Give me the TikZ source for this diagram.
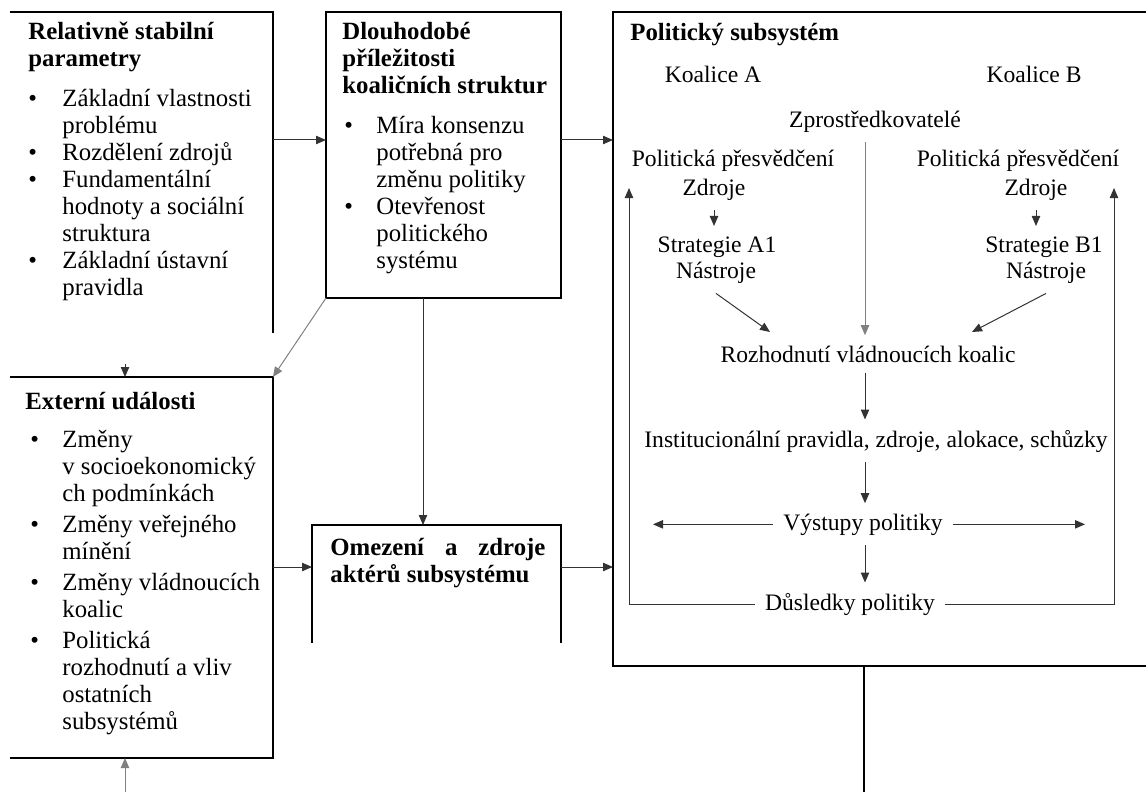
\documentclass[tikz,border=0pt]{standalone}
\usepackage{fontspec}
\setmainfont{Liberation Serif}
\usetikzlibrary{arrows.meta,fit}
\newcommand{\bl}[1]{\makebox[#1][l]{\textbullet}}
\newcommand{\hi}[1]{\hspace*{#1}}

\begin{document}
\begin{tikzpicture}[x=0.5pt, y=-0.5pt,
    boxarea/.style={inner sep=0pt, outer sep=0pt},
    boxline/.style={line width=0.9pt},
    txt/.style={inner sep=0pt, anchor=north west, align=left, font=\fontsize{12.4}{13.5}\selectfont},
    lbl/.style={inner sep=5pt, anchor=base, font=\fontsize{11.8}{13.5}\selectfont},
    arr/.style={-{Triangle[length=5pt,width=4.2pt]}},
    fine/.style={line width=0.5pt, black!80}]
\useasboundingbox (0,0) rectangle (1146,792);

% boxes
\node[boxarea, fit={(10,12) (273,333)}] (rel) {};
\node[boxarea, fit={(326,12) (561,298)}] (dl) {};
\node[boxarea, fit={(613,12) (1146,666)}] (pol) {};
\node[boxarea, fit={(10,377) (273,758)}] (ext) {};
\node[boxarea, fit={(312,525) (561,643)}] (om) {};

\draw[boxline] (rel.north west) -- (rel.north east) -- (rel.south east);
\draw[boxline] (dl.north west) rectangle (dl.south east);
\draw[boxline] (pol.north east) -- (pol.north west) -- (pol.south west) -- (pol.south east);
\draw[boxline] (ext.north west) -- (ext.north east) -- (ext.south east) -- (ext.south west);
\draw[boxline] (om.south west) -- (om.north west) -- (om.north east) -- (om.south east);

% box texts
\node[txt] (relT) at (28,20) {\strut\textbf{Relativně stabilní}\\ \textbf{parametry}\\[6.5pt]
  \bl{17pt}Základní vlastnosti\\ \hi{17pt}problému\\
  \bl{17pt}Rozdělení zdrojů\\
  \bl{17pt}Fundamentální\\ \hi{17pt}hodnoty a sociální\\ \hi{17pt}struktura\\
  \bl{17pt}Základní ústavní\\ \hi{17pt}pravidla};
\node[txt] (dlT) at (342,20) {\strut\textbf{Dlouhodobé}\\ \textbf{příležitosti}\\ \textbf{koaličních struktur}\\[6.5pt]
  \hi{1pt}\bl{16pt}Míra konsenzu\\ \hi{17pt}potřebná pro\\ \hi{17pt}změnu politiky\\
  \hi{1pt}\bl{16pt}Otevřenost\\ \hi{17pt}politického\\ \hi{17pt}systému};
\node[txt] (extT) at (25,390) {\strut\textbf{Externí události}\\[5.5pt]
  \hi{2.5pt}\bl{16pt}Změny\\ \hi{18.5pt}v socioekonomický\\ \hi{18.5pt}ch podmínkách\\[2pt]
  \hi{2.5pt}\bl{16pt}Změny veřejného\\ \hi{18.5pt}mínění\\[2pt]
  \hi{2.5pt}\bl{16pt}Změny vládnoucích\\ \hi{18.5pt}koalic\\[2pt]
  \hi{2.5pt}\bl{16pt}Politická\\ \hi{18.5pt}rozhodnutí a vliv\\ \hi{18.5pt}ostatních\\ \hi{18.5pt}subsystémů};
\node[txt] (omT) at (330,536) {\strut\textbf{\makebox[107.5pt][s]{Omezení a zdroje}}\\ \textbf{aktérů subsystému}};
\node[txt] (polT) at (630,21) {\strut\textbf{Politický subsystém}};

% inside the subsystem
\node[lbl] (koalA) at (713,83) {Koalice A};
\node[lbl] (koalB) at (1034,83) {Koalice B};
\node[lbl] (zpro) at (875,127) {Zprostředkovatelé};
\node[lbl] (presA) at (733,167) {Politická přesvědčení};
\node[lbl] (zdrA) at (714,195) {Zdroje};
\node[lbl] (strA) at (717,252) {Strategie A1};
\node[lbl] (nasA) at (716,278) {Nástroje};
\node[lbl] (presB) at (1018,167) {Politická přesvědčení};
\node[lbl] (zdrB) at (1036,195) {Zdroje};
\node[lbl] (strB) at (1044,252) {Strategie B1};
\node[lbl] (nasB) at (1046,278) {Nástroje};
\node[lbl] (rozh) at (868,362) {Rozhodnutí vládnoucích koalic};
\node[lbl] (inst) at (876,447) {Institucionální pravidla, zdroje, alokace, schůzky};
\node[lbl] (vys) at (863,530) {Výstupy politiky};
\node[lbl] (dus) at (850,610) {Důsledky politiky};

\coordinate (spine) at (865,0);
\coordinate (tipA) at (770,332);
\coordinate (tipB) at (972,332);
\coordinate (outL) at (653,526);
\coordinate (outR) at (1085,526);
\coordinate (loopA) at (629,188);
\coordinate (loopB) at (1114,188);

\draw[fine, arr] (zdrA.south) -- (zdrA.south |- strA.north);
\draw[fine, arr] (zdrB.south) -- (zdrB.south |- strB.north);
\draw[fine, arr] (nasA.south) -- (tipA);
\draw[fine, arr] (nasB.south) -- (tipB);
\draw[fine, arr, gray] (zpro.south -| spine) -- (rozh.north -| spine);
\draw[fine, arr] (rozh.south -| spine) -- (inst.north -| spine);
\draw[fine, arr] (inst.south -| spine) -- (vys.north -| spine);
\draw[fine, arr] (vys.south -| spine) -- (dus.north -| spine);
\draw[fine, arr] (vys.west) -- (vys.west -| outL);
\draw[fine, arr] (vys.east) -- (vys.east -| outR);
\draw[fine, arr] (dus.west) -| (loopA);
\draw[fine, arr] (dus.east) -| (loopB);

% links between boxes
\coordinate (row1) at (0,140);
\coordinate (row2) at (0,567);
\coordinate (col) at (423,0);
\coordinate (relIn) at (125,364);
\coordinate (extIn) at (125,792);
\coordinate (polOut) at (864,792);

\draw[fine, arr] (rel.east |- row1) -- (dl.west |- row1);
\draw[fine, arr] (dl.east |- row1) -- (pol.west |- row1);
\draw[fine, arr] (ext.east |- row2) -- (om.west |- row2);
\draw[fine, arr] (om.east |- row2) -- (pol.west |- row2);
\draw[fine, arr, gray] (dl.south west) -- (ext.north east);
\draw[fine, arr] (dl.south -| col) -- (om.north -| col);
\draw[fine, arr] (relIn) -- (ext.north -| relIn);
\draw[fine, arr, gray] (extIn) -- (ext.south -| extIn);
\draw[boxline] (pol.south -| polOut) -- (polOut);
\end{tikzpicture}
\end{document}
